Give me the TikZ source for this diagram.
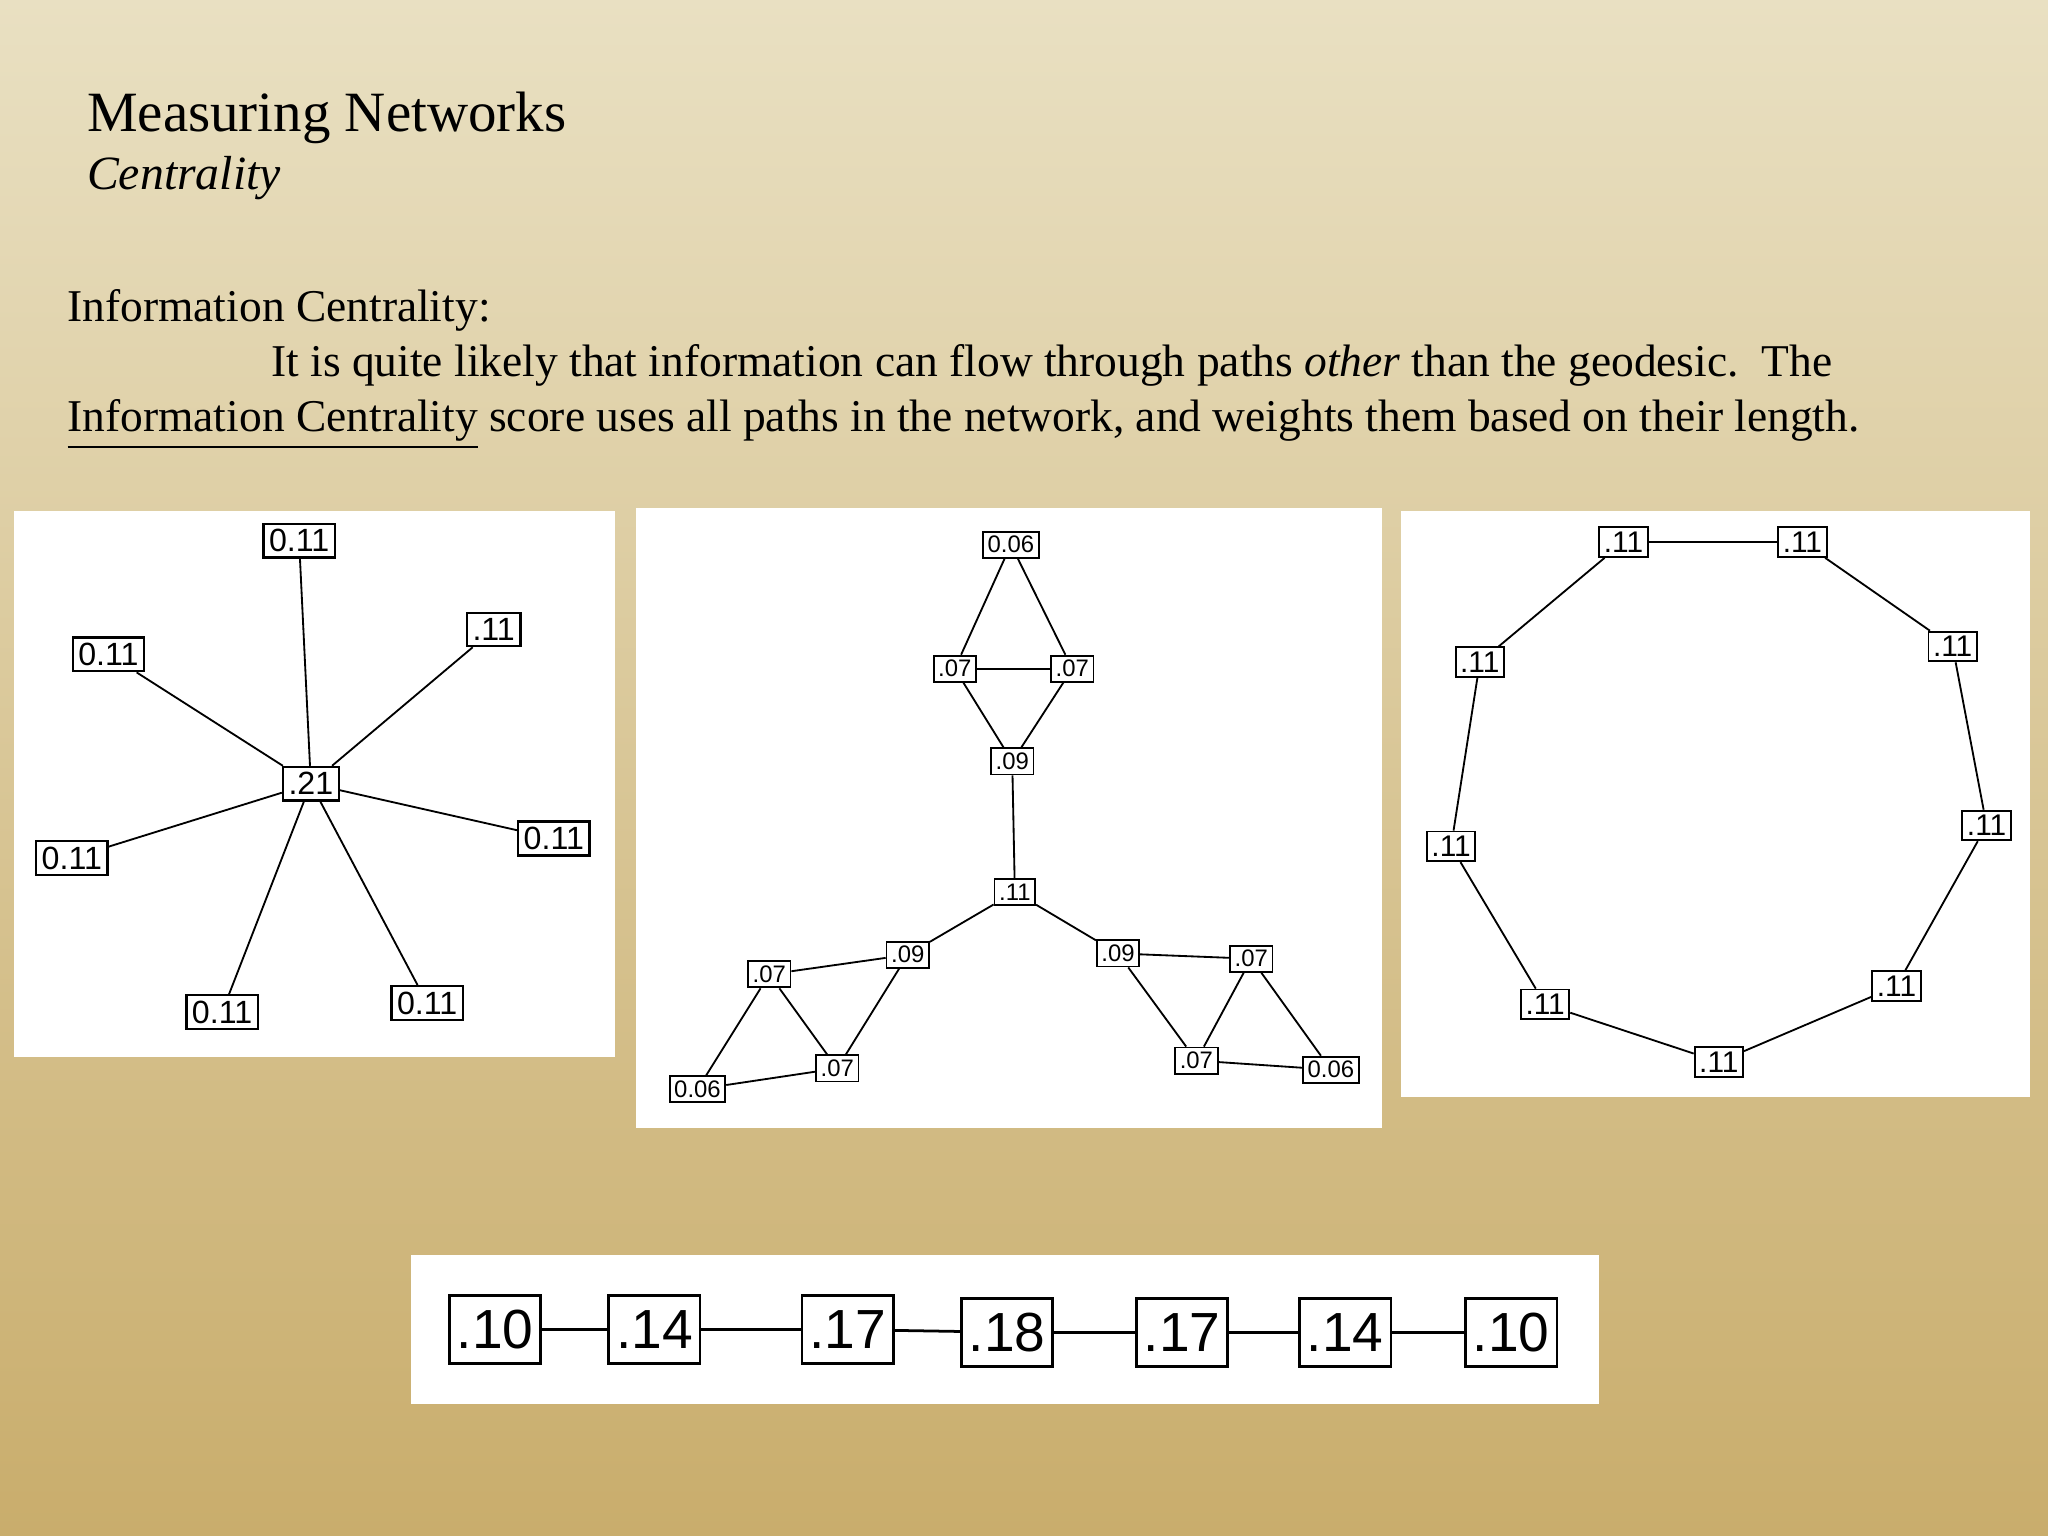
\documentclass[tikz,border=0pt]{standalone}
\usepackage{fontspec}
\setmainfont{Liberation Serif}
\newfontfamily\lab{Liberation Sans}
\begin{document}
\begin{tikzpicture}[x=0.01cm,y=-0.01cm,
 panel/.style={fill=white,draw=none},
 tx/.style={anchor=base west,inner sep=0pt},
 nb/.style={draw=black,fill=white,line width=0.5pt,inner sep=1.2pt,font=\lab\fontsize{7}{8}\selectfont},
 ns/.style={draw=black,fill=white,line width=0.4pt,inner sep=1pt,font=\lab\fontsize{5.2}{6}\selectfont},
 nr/.style={ns,font=\lab\fontsize{6.5}{7}\selectfont},
 nl/.style={draw=black,fill=white,line width=0.6pt,inner sep=1.5pt,minimum height=0.52cm,minimum width=0.7cm,font=\lab\fontsize{12}{13}\selectfont},
 e/.style={line width=0.4pt}]
\shade[top color={rgb,255:red,233;green,224;blue,194},bottom color={rgb,255:red,201;green,173;blue,108}] (0,0) rectangle (1568,1176);
\useasboundingbox (0,0) rectangle (1568,1176);
\node[tx,font=\fontsize{12.4}{14}\selectfont] (t) at (66,101) {Measuring Networks};
\node[tx,font=\itshape\fontsize{10.4}{12}\selectfont] (st) at (66,145) {Centrality};
\node[tx,font=\fontsize{9.9}{12}\selectfont] (h) at (51,246) {Information Centrality:};
\node[tx,font=\fontsize{9.9}{12}\selectfont] (l1) at (207,288) {It is quite likely that information can flow through paths \emph{other} than the geodesic.\ \ The};
\node[tx,font=\fontsize{9.9}{12}\selectfont] (l2) at (51,330) {\underline{Information Centrality} score uses all paths in the network, and weights them based on their length.};
% star
\fill[panel] (11,391) rectangle (471,809);
\node[nb] (c) at (238,600) {.21};
\node[nb] (s1) at (229,414) {0.11};
\node[nb] (s2) at (83,501) {0.11};
\node[nb] (s3) at (378,482) {.11};
\node[nb] (s4) at (55,657) {0.11};
\node[nb] (s5) at (424,642) {0.11};
\node[nb] (s6) at (170,775) {0.11};
\node[nb] (s7) at (327,768) {0.11};
\foreach \s in {s1,s2,s3,s4,s5,s6,s7} \draw[e] (c) -- (\s);
% middle
\fill[panel] (487,389) rectangle (1058,864);
\node[ns] (a) at (774,417) {0.06};
\node[ns] (b) at (731,512) {.07};
\node[ns] (d) at (821,512) {.07};
\node[ns] (f) at (775,583) {.09};
\node[ns] (g) at (777,683) {.11};
\node[ns] (h1) at (695,731) {.09};
\node[ns] (h2) at (589,746) {.07};
\node[ns] (h3) at (641,818) {.07};
\node[ns] (h4) at (534,834) {0.06};
\node[ns] (k1) at (856,730) {.09};
\node[ns] (k2) at (958,734) {.07};
\node[ns] (k3) at (916,812) {.07};
\node[ns] (k4) at (1019,819) {0.06};
\foreach \u/\v in {a/b,a/d,b/d,b/f,d/f,f/g,g/h1,g/k1,h1/h2,h1/h3,h2/h3,h2/h4,h3/h4,k1/k2,k1/k3,k2/k3,k2/k4,k3/k4} \draw[e] (\u) -- (\v);
% ring
\fill[panel] (1073,391) rectangle (1554,840);
\node[nr] (r1) at (1243,415) {.11};
\node[nr] (r2) at (1380,415) {.11};
\node[nr] (r3) at (1495,495) {.11};
\node[nr] (r4) at (1521,632) {.11};
\node[nr] (r5) at (1452,755) {.11};
\node[nr] (r6) at (1316,813) {.11};
\node[nr] (r7) at (1183,769) {.11};
\node[nr] (r8) at (1111,648) {.11};
\node[nr] (r9) at (1133,507) {.11};
\foreach \u/\v in {r1/r2,r2/r3,r3/r4,r4/r5,r5/r6,r6/r7,r7/r8,r8/r9,r9/r1} \draw[e] (\u) -- (\v);
% line
\fill[panel] (315,961) rectangle (1224,1075);
\node[nl] (p1) at (379,1018) {.10};
\node[nl] (p2) at (501,1018) {.14};
\node[nl] (p3) at (649,1018) {.17};
\node[nl] (p4) at (771,1020) {.18};
\node[nl] (p5) at (905,1020) {.17};
\node[nl] (p6) at (1030,1020) {.14};
\node[nl] (p7) at (1157,1020) {.10};
\foreach \u/\v in {p1/p2,p2/p3,p3/p4,p4/p5,p5/p6,p6/p7} \draw[line width=0.6pt] (\u) -- (\v);
\end{tikzpicture}
\end{document}
